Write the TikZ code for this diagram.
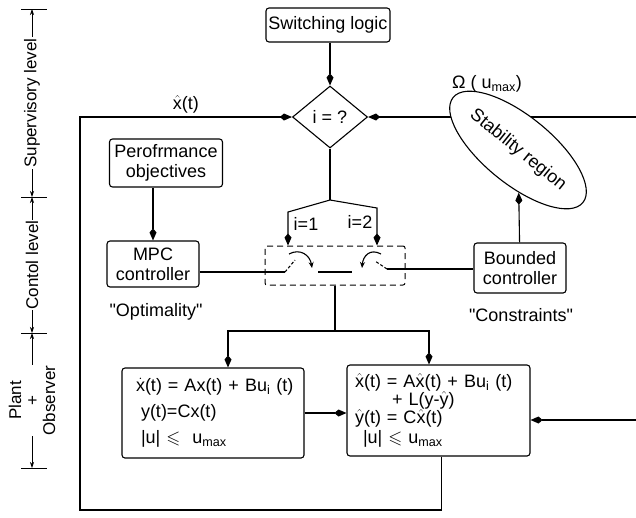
\documentclass[tikz,border=0pt]{standalone}
\usepackage{amsmath,amssymb}
\usepackage{fontspec}
\setmainfont{Liberation Sans}
\usetikzlibrary{positioning,arrows.meta,shapes.geometric,calc}
\newcommand{\xh}{$\hat{\text{x}}$}
\newcommand{\yh}{$\hat{\text{y}}$}
\newcommand{\xd}{$\dot{\text{x}}$}
\newcommand{\umax}{u\textsubscript{max}}

\begin{document}
\begin{tikzpicture}[x=1pt,y=-1pt,
  font=\fontsize{18}{20}\selectfont,
  blk/.style={draw,rounded corners=3pt,line width=1.1pt,align=center,inner sep=2pt},
  ar/.style={-{Kite[length=12pt,width=7pt,inset=4pt]},line width=1.1pt},
  ln/.style={line width=1.1pt},
  dimln/.style={{Stealth[length=6pt,width=4pt]}-{Stealth[length=6pt,width=4pt]},line width=0.7pt},
  lvl/.style={fill=white,inner sep=1pt,rotate=90,align=center,font=\fontsize{17}{17}\selectfont}]
\useasboundingbox (0,0) rectangle (636,517);
% ---- levels ----
\foreach \y in {9,197,333,468} \draw[line width=0.7pt] (21,\y) -- (47,\y);
\draw[dimln] (32,9) -- node[lvl] {Supervisory level} (32,197);
\draw[dimln] (32,197) -- node[lvl] {Contol level} (32,333);
\draw[dimln] (32,333) -- node[lvl] {Plant\\+\\Observer} (32,468);
% ---- supervisory level ----
\node[blk,minimum width=124pt,minimum height=34pt] (sw) at (328,25) {Switching logic};
\node[diamond,draw,line width=1.1pt,minimum width=75pt,minimum height=62pt,inner sep=0pt] (dia) at (330,117) {i = ?};
\draw[ar] (sw.south -| dia.north) -- (dia.north);
\coordinate (rt) at (636,117);
\draw[ar] (rt) -- (dia.east);
\node[ellipse,draw,fill=white,line width=1.1pt,rotate=-39,minimum width=142pt,minimum height=68pt,inner sep=0pt] (ell) at (518,150) {Stability region};
\node (om) at (487,84) {Ω ( \umax)};
% ---- control level ----
\node[blk,minimum width=113pt,minimum height=48pt] (perf) at (166,163) {Perofrmance\\objectives};
\node[blk,minimum width=92pt,minimum height=46pt] (mpc) at (153,264) {MPC\\controller};
\node[blk,minimum width=92pt,minimum height=50pt] (bnd) at (520,268) {Bounded\\controller};
\node (opt) at (156,312) {\textquotedbl Optimality\textquotedbl};
\node (con) at (521,315) {\textquotedbl Constraints\textquotedbl};
\draw[ar] (perf.south -| mpc.north) -- (mpc.north);
\draw[ar] (bnd) -- (ell);
% ---- switch ----
\node[draw,line width=1pt,dash pattern=on 6pt off 4pt,rounded corners=2pt,minimum width=140pt,minimum height=39pt] (sbox) at (335,265.5) {};
\coordinate (br) at (330,200);
\coordinate (b1) at (288,212);
\coordinate (b2) at (377,208);
\draw[ln] (dia.south) -- (br);
\draw[ar] (br) -- (b1) -- (b1 |- sbox.north);
\draw[ar] (br) -- (b2) -- (b2 |- sbox.north);
\node (i1) at (306,224) {i=1};
\node (i2) at (360,222) {i=2};
\coordinate (s1) at (285,272);
\coordinate (s2) at (387,269);
\draw[ln] (mpc.east |- s1) -- (s1);
\draw[ln] (s2) -- (s2 -| bnd.west);
\draw[ln,dash pattern=on 3pt off 2pt] (s1) -- ++(10,-12);
\draw[ln,dash pattern=on 3pt off 2pt] (s2) -- ++(-12,-8);
\draw[ln,-{Stealth[length=6pt,width=5pt]}] (289,254) .. controls (300,248) and (310,255) .. (312,268);
\draw[ln,-{Stealth[length=6pt,width=5pt]}] (381,254) .. controls (370,248) and (363,256) .. (362,268);
\draw[ln] (318,272) -- (352,272);
% ---- plant + observer ----
\node[blk,minimum width=182pt,minimum height=90pt,text width=166pt,align=left] (plant) at (213,413)
 {\hspace*{6pt}\xd(t) = Ax(t) + Bu\textsubscript{i} (t)\\[6pt]
  \hspace*{11pt}y(t)=Cx(t)\\[6pt]
  \hspace*{11pt}|u| $\leqslant$\ \ \umax};
\node[blk,minimum width=183pt,minimum height=91pt,text width=167pt,align=left] (obs) at (438.5,410.5)
 {\xh(t) = A\xh(t) + Bu\textsubscript{i} (t)\\[-2pt]
  \hspace*{37pt}+ L(y-\yh)\\[-2pt]
  \yh(t) = C\xh(t)\\
  \hspace*{8pt}|u| $\leqslant$ \umax};
\coordinate (p1) at (228,331);
\coordinate (p2) at (429,331);
\draw[ln] (sbox.south) -- (sbox.south |- p1);
\draw[ar] (sbox.south |- p1) -- (p1) -- (p1 |- plant.north);
\draw[ar] (sbox.south |- p1) -- (p2) -- (p2 |- obs.north);
\draw[ar] (plant.east) -- (plant.east -| obs.west);
\coordinate (ri) at (636,420);
\draw[ar] (ri) -- (ri -| obs.east);
% ---- feedback frame ----
\coordinate (fl) at (80,117);
\coordinate (fb) at (80,510);
\draw[ar] (obs.south) ++(3,0) coordinate (oo) -- (oo |- fb) -- (fb) -- (fl) -- node[above] {\xh(t)} (dia.west);
\end{tikzpicture}
\end{document}
